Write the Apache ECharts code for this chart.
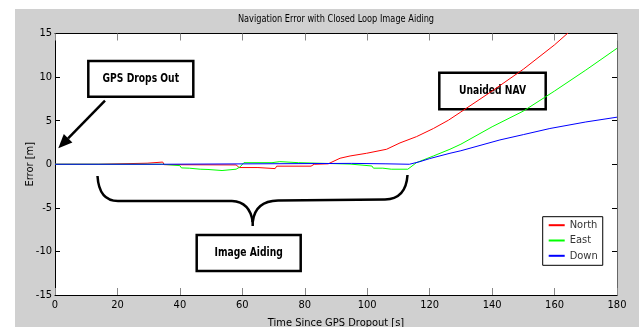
<!DOCTYPE html>
<html>
<head>
<meta charset="utf-8">
<script src="https://cdn.jsdelivr.net/npm/echarts@6/dist/echarts.min.js"></script>
<style>
  html, body { margin: 0; padding: 0; background: #fff; }
  #chart { width: 639px; height: 327px; }
</style>
</head>
<body>
<div id="chart"></div>
<script>
// [time s, error m]
const north = [
  [0, 0], [14, 0], [14.5, 0.12], [29.5, 0.12], [29.8, 0.25], [34.5, 0.25], [35, -0.05],
  [58, -0.08], [59, -0.38], [65, -0.38], [65.5, -0.5], [70.5, -0.5], [71, -0.22],
  [82, -0.22], [83, 0], [87.5, 0.05], [91.3, 0.69], [94.5, 0.95], [99.8, 1.26],
  [106.2, 1.72], [110.5, 2.45], [115.8, 3.17], [121.2, 4.1], [126, 5.05], [130, 6.0],
  [140, 8.4], [150, 10.9], [160, 13.7], [166, 15.6]
];
const east = [
  [0, 0], [34.5, 0], [35, -0.16], [40, -0.16], [40.5, -0.42], [43, -0.45], [46.5, -0.57],
  [49, -0.6], [53.5, -0.72], [54, -0.57], [58, -0.57], [58.5, -0.72], [59.3, -0.3],
  [60.5, 0.18], [69.5, 0.18], [70, 0.3], [72, 0.3], [72.5, 0.18], [78, 0.18], [78.5, 0.05],
  [94.5, 0.02], [95, -0.2], [101.5, -0.2], [102, -0.45], [105, -0.45], [107.7, -0.57],
  [113, -0.57], [115.8, 0.19], [121.2, 0.95], [126.5, 1.72], [130, 2.3], [140, 4.3],
  [150, 6.1], [160, 8.4], [170, 10.8], [180, 13.3]
];
const down = [
  [0, 0], [34, 0], [34.5, 0.1], [95, 0.1], [95.5, 0.05], [106, 0.05], [106.5, 0],
  [113.5, 0], [116.9, 0.3], [120, 0.65], [126.5, 1.26], [130, 1.55], [142.5, 2.79],
  [150, 3.4], [158.5, 4.1], [170, 4.85], [180, 5.4]
];
const seriesNames = ['North', 'East', 'Down'];
const seriesColors = ['#ff0000', '#00ff00', '#0000ff'];

const FONT = "'Liberation Sans Narrow', 'DejaVu Sans Condensed', 'Arial Narrow', sans-serif";

const chart = echarts.init(document.getElementById('chart'));

function arrow(x1, y1, x2, y2) {
  const dx = x2 - x1, dy = y2 - y1;
  const len = Math.sqrt(dx * dx + dy * dy);
  const ux = dx / len, uy = dy / len;
  const hl = 14, hw = 6;
  const bx = x2 - ux * hl, by = y2 - uy * hl;
  return [
    { type: 'line', shape: { x1: x1, y1: y1, x2: bx, y2: by }, style: { stroke: '#000', lineWidth: 2.5 } },
    {
      type: 'polygon',
      shape: { points: [[x2, y2], [bx - uy * hw, by + ux * hw], [bx + uy * hw, by - ux * hw]] },
      style: { fill: '#000' }
    }
  ];
}

function labelBox(x, y, w, h, text) {
  return [
    { type: 'rect', shape: { x: x, y: y, width: w, height: h }, style: { fill: '#fff', stroke: '#000', lineWidth: 2.5 } },
    {
      type: 'text', x: x + w / 2, y: y + h / 2, scaleX: 0.85,
      style: { text: text, fill: '#000', font: 'bold 12px ' + FONT, align: 'center', verticalAlign: 'middle' }
    }
  ];
}

// curly brace under the image-aiding stretch
const braceStyle = { stroke: '#000', lineWidth: 2.5, fill: null };
const brace = [
  { type: 'bezierCurve', shape: { x1: 97.5, y1: 176, cpx1: 99, cpy1: 201, x2: 118, y2: 201 }, style: braceStyle },
  { type: 'line', shape: { x1: 118, y1: 201, x2: 232, y2: 201 }, style: braceStyle },
  { type: 'bezierCurve', shape: { x1: 232, y1: 201, cpx1: 250, cpy1: 202, x2: 252.7, y2: 222 }, style: braceStyle },
  { type: 'bezierCurve', shape: { x1: 252.7, y1: 222, cpx1: 255, cpy1: 201, x2: 278, y2: 200.5 }, style: braceStyle },
  { type: 'line', shape: { x1: 278, y1: 200.5, x2: 385, y2: 199.5 }, style: braceStyle },
  { type: 'bezierCurve', shape: { x1: 385, y1: 199.5, cpx1: 406, cpy1: 199, x2: 407.5, y2: 175 }, style: braceStyle },
  { type: 'line', shape: { x1: 252.7, y1: 218, x2: 252.7, y2: 226 }, style: braceStyle }
];

chart.setOption({
  backgroundColor: '#fff',
  animation: false,
  textStyle: { fontFamily: FONT },
  grid: { left: 55, top: 33.5, right: 22, bottom: 32, outerBoundsMode: 'none', containLabel: false },
  legend: {
    data: seriesNames,
    orient: 'vertical',
    left: 542.7,
    top: 216.7,
    padding: [3, 5, 4, 5],
    itemWidth: 16,
    itemHeight: 12,
    itemGap: 4.3,
    itemStyle: { opacity: 0 },
    backgroundColor: '#fff',
    borderColor: '#000',
    borderWidth: 1,
    textStyle: { color: '#333', fontSize: 11, fontFamily: FONT }
  },
  xAxis: [
    {
      type: 'value', min: 0, max: 180, interval: 20, position: 'bottom',
      name: 'Time Since GPS Dropout [s]', nameLocation: 'middle', nameGap: 23,
      nameMoveOverlap: false,
      nameTextStyle: { color: '#000', fontSize: 11, fontFamily: FONT },
      axisLine: { onZero: false, lineStyle: { color: '#000', width: 1 } },
      axisTick: { inside: true, length: 7, lineStyle: { color: '#888' } },
      axisLabel: { color: '#000', fontSize: 11, margin: 5, fontFamily: FONT },
      splitLine: { show: false }
    },
    {
      type: 'value', min: 0, max: 180, interval: 20, position: 'top',
      axisLine: { onZero: false, lineStyle: { color: '#000', width: 1 } },
      axisTick: { inside: true, length: 7, lineStyle: { color: '#888' } },
      axisLabel: { show: false },
      splitLine: { show: false }
    }
  ],
  yAxis: [
    {
      type: 'value', min: -15, max: 15, interval: 5, position: 'left',
      name: 'Error [m]', nameLocation: 'middle', nameGap: 19,
      nameMoveOverlap: false,
      nameTextStyle: { color: '#000', fontSize: 11, fontFamily: FONT },
      axisLine: { onZero: false, lineStyle: { color: '#000', width: 1 } },
      axisTick: { inside: true, length: 5, lineStyle: { color: '#000' } },
      axisLabel: { color: '#000', fontSize: 11, margin: 3, fontFamily: FONT },
      splitLine: { show: false }
    },
    {
      type: 'value', min: -15, max: 15, interval: 5, position: 'right',
      axisLine: { onZero: false, lineStyle: { color: '#666', width: 1 } },
      axisTick: { inside: true, length: 5, lineStyle: { color: '#000' } },
      axisLabel: { show: false },
      splitLine: { show: false }
    }
  ],
  series: [north, east, down].map((d, i) => ({
    name: seriesNames[i],
    type: 'line',
    data: d,
    symbol: 'none',
    clip: true,
    color: seriesColors[i],
    lineStyle: { width: 1, color: seriesColors[i] },
    z: 2 + i
  })),
  graphic: [
    { type: 'rect', z: -10, silent: true, shape: { x: 15, y: 9, width: 624, height: 318 }, style: { fill: '#d0d0d0' } },
    { type: 'rect', z: -9, silent: true, shape: { x: 55, y: 33.5, width: 562, height: 261.5 }, style: { fill: '#fff' } },
    {
      type: 'text', x: 336, y: 19, scaleX: 0.83,
      style: { text: 'Navigation Error with Closed Loop Image Aiding', fill: '#000', font: '11px ' + FONT, align: 'center', verticalAlign: 'middle' }
    },
    ...labelBox(88.3, 61, 105, 35.7, 'GPS Drops Out'),
    ...arrow(105, 100.7, 58.3, 148.3),
    ...labelBox(439.3, 72.7, 106.4, 36.6, 'Unaided NAV'),
    ...labelBox(196.7, 235, 104, 36, 'Image Aiding'),
    ...brace
  ]
});
</script>
</body>
</html>
